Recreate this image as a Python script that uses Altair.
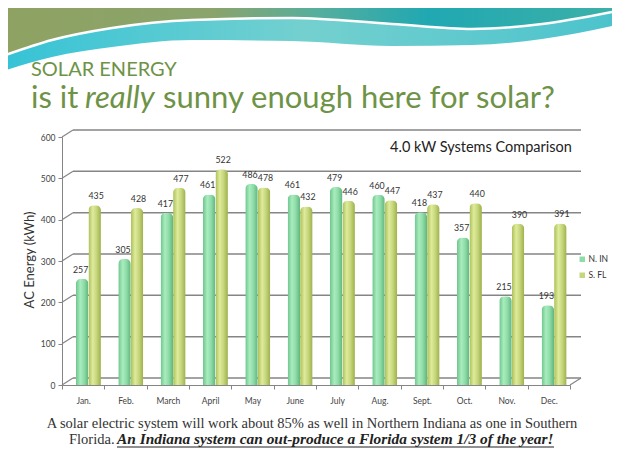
import altair as alt
import pandas as pd

# ---------------- data ----------------
months = ["Jan.", "Feb.", "March", "April", "May", "June",
          "July", "Aug.", "Sept.", "Oct.", "Nov.", "Dec."]
n_in = [257, 305, 417, 461, 486, 461, 479, 460, 418, 357, 215, 193]
s_fl = [435, 428, 477, 522, 478, 432, 446, 447, 437, 440, 390, 391]
series_names = ["N. IN", "S. FL"]
y_ticks = [0, 100, 200, 300, 400, 500, 600]

df = pd.DataFrame({"month": months, "nin": n_in, "sfl": s_fl})
df_long = pd.DataFrame({
    "month": months * 2,
    "value": n_in + s_fl,
    "series": [series_names[0]] * 12 + [series_names[1]] * 12,
})
df_ticks = pd.DataFrame({"v": y_ticks})

# ---------------- styling ----------------
W, H = 508, 248
PAD = {"left": 54, "top": 129, "right": 42, "bottom": 71}
GREEN_T = "#6e9346"
SANS = "Lato"
SERIF = "Liberation Serif"
GRID = "#858585"
DX, DY = 11, -7   # 3-D depth offset of back wall

x_enc = alt.X("month:N", sort=months, title=None,
              scale=alt.Scale(paddingInner=0, paddingOuter=0),
              axis=alt.Axis(tickBand="extent", labelAngle=0, labelFontSize=8.5,
                            labelColor="#444", labelFont=SANS, labelPadding=7,
                            domainColor=GRID, tickColor=GRID, tickSize=4, grid=False))
y_scale = alt.Scale(domain=[0, 600], nice=False)

n_grad = alt.Gradient(gradient="linear", x1=0, x2=1, y1=0, y2=0, stops=[
    alt.GradientStop(color="#6cc58c", offset=0),
    alt.GradientStop(color="#a9ecbd", offset=0.35),
    alt.GradientStop(color="#8fdca9", offset=0.65),
    alt.GradientStop(color="#5fb57d", offset=1)])
s_grad = alt.Gradient(gradient="linear", x1=0, x2=1, y1=0, y2=0, stops=[
    alt.GradientStop(color="#aabf55", offset=0),
    alt.GradientStop(color="#dfeb9c", offset=0.35),
    alt.GradientStop(color="#c6d67c", offset=0.65),
    alt.GradientStop(color="#9db04a", offset=1)])

one = alt.Data(values=[{"a": 1}])

# back-wall gridlines
grid = alt.Chart(df_ticks).mark_rule(color=GRID, strokeWidth=1.5, yOffset=DY).encode(
    x=alt.value(DX), x2=alt.value(W + DX),
    y=alt.Y("v:Q", scale=y_scale,
            axis=alt.Axis(values=y_ticks, title=None, labelFontSize=8.5, labelColor="#444",
                          labelFont=SANS, domainColor=GRID, tickColor=GRID, tickSize=4,
                          grid=False, labelPadding=3)))
conn = alt.Chart(df_ticks).mark_rule(color=GRID, strokeWidth=1.2, y2Offset=DY).encode(
    x=alt.value(0), x2=alt.value(DX), y=alt.Y("v:Q", scale=y_scale), y2="v:Q")
floor_r = alt.Chart(df_ticks[df_ticks.v == 0]).mark_rule(color=GRID, strokeWidth=1.2, y2Offset=DY).encode(
    x=alt.value(W), x2=alt.value(W + DX), y=alt.Y("v:Q", scale=y_scale), y2="v:Q")

bars_n = alt.Chart(df).mark_bar(width=12.5, xOffset=-1, color=n_grad,
                                cornerRadiusTopLeft=5, cornerRadiusTopRight=5).encode(
    x=x_enc, y=alt.Y("nin:Q", scale=y_scale))
bars_s = alt.Chart(df).mark_bar(width=12.5, xOffset=11.5, color=s_grad,
                                cornerRadiusTopLeft=5, cornerRadiusTopRight=5).encode(
    x=x_enc, y=alt.Y("sfl:Q", scale=y_scale))
lab_n = alt.Chart(df).mark_text(xOffset=-2.5, dy=-4, baseline="bottom", fontSize=8.8,
                                font=SANS, color="#333").encode(
    x=x_enc, y=alt.Y("nin:Q", scale=y_scale), text="nin:Q")
lab_s = alt.Chart(df).mark_text(xOffset=13, dy=-4, baseline="bottom", fontSize=8.8,
                                font=SANS, color="#333").encode(
    x=x_enc, y=alt.Y("sfl:Q", scale=y_scale), text="sfl:Q")

legend_layer = alt.Chart(df_long).mark_square(opacity=0).encode(
    x=x_enc, y=alt.Y("value:Q", scale=y_scale),
    color=alt.Color("series:N",
                    scale=alt.Scale(domain=series_names, range=["#8fdca9", "#c6d67c"]),
                    legend=alt.Legend(title=None, orient="none", legendX=516, legendY=118,
                                      symbolType="square", symbolSize=30, symbolOpacity=1,
                                      labelFontSize=8.5, labelFont=SANS, labelColor="#333",
                                      labelOffset=2, rowPadding=7, padding=0,
                                      symbolStrokeWidth=0)))

def txt(text, x, y, size, **kw):
    return alt.Chart(one).mark_text(text=text, fontSize=size, **kw).encode(
        x=alt.value(x), y=alt.value(y))

chart_title = txt("4.0 kW Systems Comparison", 419, 11, 14.5, font=SANS, color="#222",
                  align="center", baseline="middle")
y_title = txt("AC Energy (kWh)", -32, 123, 13, font=SANS, color="#333",
              align="center", baseline="middle", angle=270)

t1 = txt("SOLAR ENERGY", -31, -61, 20, font=SANS, color=GREEN_T, align="left",
         baseline="alphabetic")
t2a = txt("is it", -31, -29, 31, font=SANS, color=GREEN_T, align="left", baseline="alphabetic")
t2b = txt("really", 23, -29, 31, font=SANS, color=GREEN_T, align="left",
          baseline="alphabetic", fontStyle="italic")
t2c = txt("sunny enough here for solar?", 101, -29, 31, font=SANS, color=GREEN_T,
          align="left", baseline="alphabetic")

b1 = txt("A solar electric system will work about 85% as well in Northern Indiana as one in Southern",
         250, 291, 14.5, font=SERIF, color="#333", align="center", baseline="alphabetic")
b2a = txt("Florida.", 7, 307, 14.5, font=SERIF, color="#333", align="left", baseline="alphabetic")
b2b = txt("An Indiana system can out-produce a Florida system 1/3 of the year!", 55, 307, 15.4,
          font=SERIF, color="#222", align="left", baseline="alphabetic",
          fontStyle="italic", fontWeight="bold")
underline = alt.Chart(one).mark_rule(color="#222", strokeWidth=1.2).encode(
    x=alt.value(55), x2=alt.value(492), y=alt.value(310))

main = alt.layer(grid, conn, floor_r, bars_n, bars_s, lab_n, lab_s, legend_layer,
                 chart_title, y_title, t1, t2a, t2b, t2c, b1, b2a, b2b, underline)

# ---------------- decorative header swoosh (page-style, not data) ----------------
deco_x = [-62, -10, 50, 130, 230, 330, 410, 480, 550]
deco_lo = [-65, -80, -90, -97, -96, -91, -92, -98, -111]
deco_hi = [-80, -97, -109, -117, -119, -113, -108, -113, -125]
deco_top = [-129] * len(deco_x)
deco = pd.DataFrame({"x": deco_x, "lo": deco_lo, "hi": deco_hi, "top": deco_top})

grad_a = alt.Gradient(gradient="linear", x1=0, x2=1, y1=0, y2=0, stops=[
    alt.GradientStop(color="#35c3d6", offset=0),
    alt.GradientStop(color="#74d0cf", offset=0.5),
    alt.GradientStop(color="#4cc3cc", offset=1)])
grad_b = alt.Gradient(gradient="linear", x1=0, x2=1, y1=0, y2=0, stops=[
    alt.GradientStop(color="#8fa262", offset=0),
    alt.GradientStop(color="#8aa46c", offset=0.35),
    alt.GradientStop(color="#55ae9e", offset=0.52),
    alt.GradientStop(color="#20a8b2", offset=0.7),
    alt.GradientStop(color="#3cb0a8", offset=1)])
area_a = alt.Chart(deco).mark_area(interpolate="monotone", color=grad_a).encode(
    x=alt.X("x:Q", scale=None, axis=None), y=alt.Y("top:Q", scale=None, axis=None), y2="lo:Q")
area_b = alt.Chart(deco).mark_area(interpolate="monotone", color=grad_b).encode(
    x=alt.X("x:Q", scale=None, axis=None), y=alt.Y("top:Q", scale=None, axis=None), y2="hi:Q")
swoosh = alt.Chart(deco).mark_line(interpolate="monotone", color="white", strokeWidth=2.5).encode(
    x=alt.X("x:Q", scale=None, axis=None), y=alt.Y("hi:Q", scale=None, axis=None))
decor = alt.layer(area_a, area_b, swoosh)

chart = alt.layer(decor, main).resolve_scale(x="independent", y="independent").properties(
    width=W, height=H, padding=PAD, autosize="none", background="white"
).configure_view(stroke=None)

chart.save("out.html", embed_options={"renderer": "svg", "actions": False})
